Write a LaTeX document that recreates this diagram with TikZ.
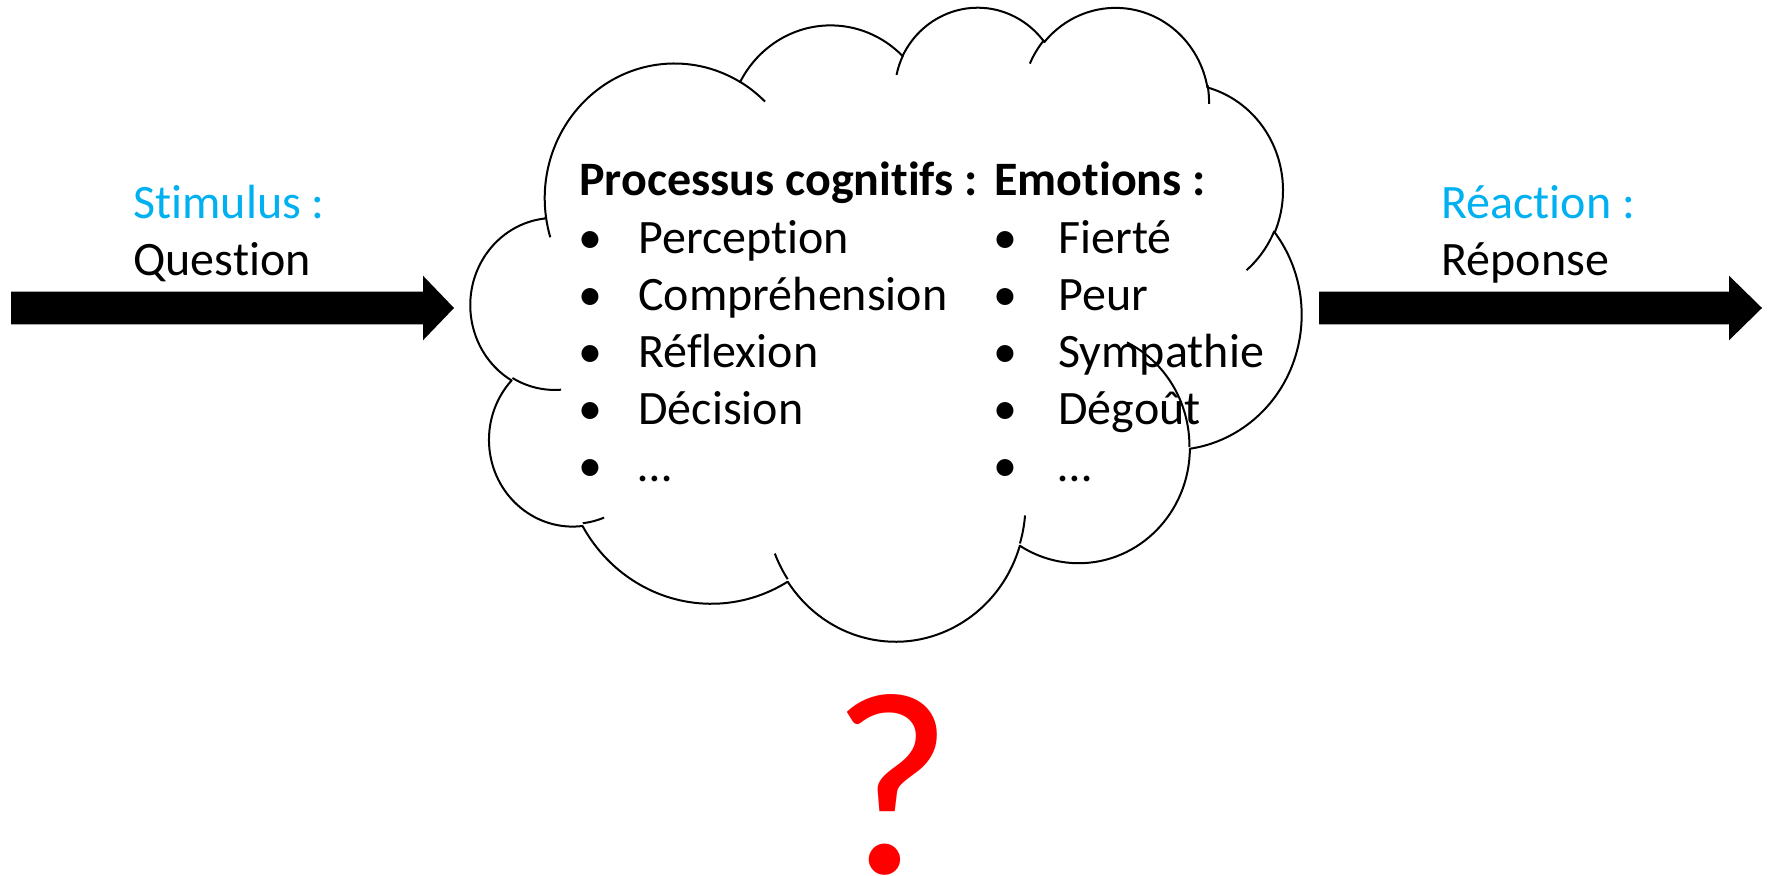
\documentclass[tikz,border=0pt]{standalone}
\usepackage{fontspec}
\setmainfont{Carlito}[Ligatures={NoCommon}]
\usetikzlibrary{positioning}
\definecolor{stimblue}{HTML}{00B0F0}

\begin{document}
\begin{tikzpicture}[
    x=0.5pt,y=-0.5pt,
    txt/.style={inner sep=0pt,anchor=base west,
        font={\fontsize{24}{28}\selectfont}},
    heading/.style={txt,font={\fontsize{24}{28}\selectfont\bfseries}},
    itemdot/.style={inner sep=0pt,anchor=base,
        font={\fontsize{24}{28}\selectfont}},
    % PowerPoint gives the lobes by visual angles, arc wants the parameter
    lobe/.style n args={4}{x radius=#1,y radius=#2,
        start angle={atan2(#1*sin(#3),#2*cos(#3))},
        delta angle={mod(atan2(#1*sin(#3+#4),#2*cos(#3+#4))-atan2(#1*sin(#3),#2*cos(#3))+720,360)}},
    cloudline/.style={line width=1pt,line join=round},
    ]
    \useasboundingbox (0,0) rectangle (1771,876);

    % Cloud outline
    \begin{scope}[shift={(470.95,5.66)},x=0.96105pt,y=-0.7335pt]
    \draw[cloudline] (39.00,143.70)
        arc[lobe={67.53}{91.90}{-190.487}{123.781}]
        arc[lobe={53.33}{72.67}{-144.102}{89.945}]
        arc[lobe={43.65}{59.45}{-145.808}{99.723}]
        arc[lobe={48.57}{65.95}{-130.986}{117.242}]
        arc[lobe={53.33}{72.73}{-78.709}{109.027}]
        arc[lobe={67.75}{92.20}{-46.267}{130.269}]
        arc[lobe={57.85}{78.67}{0.625}{114.033}]
        arc[lobe={67.52}{92.15}{22.452}{115.173}]
        arc[lobe={77.20}{105.43}{66.243}{75.711}]
        arc[lobe={43.60}{59.18}{-274.942}{146.736}]
        arc[lobe={43.45}{59.45}{-246.829}{152.519}]
        -- cycle;

    % Inner bits of the lobes
    \foreach \sx/\sy/\ra/\rb/\st/\sw in {
        46.93/261.77/43.45/59.45/86.742/26.430,
        69.28/348.99/43.60/59.18/73.610/11.447,
        164.78/390.90/67.52/92.15/137.624/14.081,
        288.27/347.51/67.52/92.15/6.453/15.998,
        341.29/229.54/57.85/78.67/-70.292/70.917,
        417.98/153.54/53.33/72.73/30.318/27.752,
        383.24/54.26/48.57/65.95/-13.744/14.859,
        290.78/39.52/48.57/65.95/-149.181/18.195,
        221.41/47.20/43.65/59.45/-163.494/16.863,
        140.00/51.92/67.53/91.90/-66.707/12.319,
        41.27/157.89/67.53/91.90/157.654/11.858}
        \draw[cloudline] (\sx,\sy) arc[lobe={\ra}{\rb}{\st}{\sw}];
    \end{scope}

    % Block arrows
    \fill (11,291.7) -- (423,291.7) -- (423,275.7) -- (454,308)
        -- (423,340.3) -- (423,324.3) -- (11,324.3) -- cycle;
    \fill (1319,291.7) -- (1729,291.7) -- (1729,275.7) -- (1762,308)
        -- (1729,340.3) -- (1729,324.3) -- (1319,324.3) -- cycle;

    % Input and output
    \node[txt,text=stimblue] (stimulus) at (133,218.3) {Stimulus :};
    \node[txt] (question) at (133,276) {Question};
    \node[txt,text=stimblue] (reaction) at (1441,218.3) {Réaction :};
    \node[txt] (reponse) at (1441,276) {Réponse};

    % Lists in the cloud
    \node[heading] (cognitif) at (579,195.7) {Processus cognitifs :};
    \node[heading] (emotion) at (994,195.7) {Emotions :};
    \foreach \word [count=\i] in {Perception,Compréhension,Réflexion,Décision,…}{
        \node[itemdot] (cogdot\i) at (590,{196+57.1*\i}) {•};
        \node[txt] (cog\i) at (638,{196+57.1*\i}) {\word};
    }
    \foreach \word [count=\i] in {Fierté,Peur,Sympathie,Dégoût,…}{
        \node[itemdot] (emodot\i) at (1005,{196+57.1*\i}) {•};
        \node[txt] (emo\i) at (1058,{196+57.1*\i}) {\word};
    }

    % Question mark
    \node[inner sep=0pt,anchor=base,text=red,
        font={\fontsize{131}{134}\selectfont}] (unknown) at (892,873) {?};
\end{tikzpicture}
\end{document}
